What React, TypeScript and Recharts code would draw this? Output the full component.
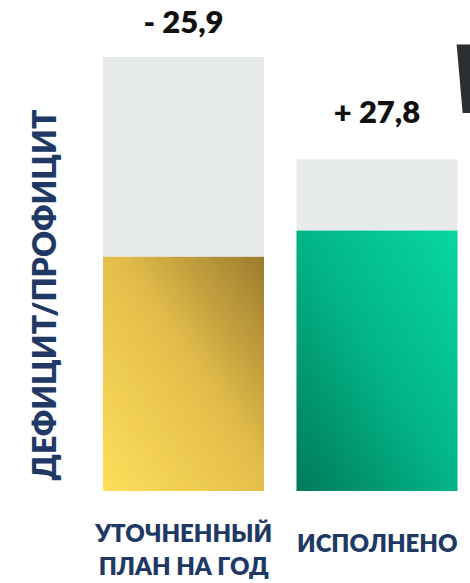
import { BarChart, Bar, XAxis, YAxis, LabelList, Customized } from "recharts";

// bar values (same units for both series)
const categories = [["УТОЧНЕННЫЙ", "ПЛАН НА ГОД"], ["ИСПОЛНЕНО"]];
const totals = [48, 36.7];
const balance = [25.9, 28.8];
const balanceLabels = ["- 25,9", "+ 27,8"];
const axisTitle = "ДЕФИЦИТ/ПРОФИЦИТ";

const labelOffsets = [24, 36];
const navy = "#203864";
const font = "Lato, 'Open Sans', sans-serif";

const data = categories.map((lines, i) => ({
  name: lines.join(" "),
  lines,
  total: totals[i],
  balance: balance[i],
  label: balanceLabels[i],
}));

function CategoryTick(props: any) {
  const { x, y, index } = props;
  const lines = categories[index] ?? [];
  const startY = lines.length > 1 ? y + 43 : y + 53;
  return (
    <g>
      {lines.map((line, i) => (
        <text
          key={i}
          x={x}
          y={startY + i * 33}
          textAnchor="middle"
          fill={navy}
          fontFamily={font}
          fontWeight={800}
          fontSize={24}
        >
          {line}
        </text>
      ))}
    </g>
  );
}

function ValueLabel(props: any) {
  const { x, y, width, index } = props;
  return (
    <text
      x={x + width / 2}
      y={y - labelOffsets[index]}
      textAnchor="middle"
      fill="#111"
      fontFamily={font}
      fontWeight={800}
      fontSize={31}
    >
      {balanceLabels[index]}
    </text>
  );
}

function AxisTitle() {
  return (
    <text
      x={56}
      y={295}
      transform="rotate(-90 56 295)"
      textAnchor="middle"
      fill={navy}
      fontFamily={font}
      fontWeight={800}
      fontSize={32}
    >
      {axisTitle}
    </text>
  );
}

export default function App() {
  return (
    <div
      style={{
        position: "absolute",
        left: 0,
        top: 0,
        width: 470,
        height: 583,
        overflow: "hidden",
        background: "#fff",
      }}
    >
      <BarChart
        width={474}
        height={583}
        data={data}
        margin={{ top: 57, right: 0, bottom: 0, left: 87 }}
      >
        <defs>
          <linearGradient id="gold" x1="0" y1="1" x2="1" y2="0">
            <stop offset="0%" stopColor="#fede5b" />
            <stop offset="55%" stopColor="#e2bc4a" />
            <stop offset="100%" stopColor="#9b7c2e" />
          </linearGradient>
          <linearGradient id="green" x1="0" y1="1" x2="1" y2="0">
            <stop offset="0%" stopColor="#007a5a" />
            <stop offset="50%" stopColor="#03b487" />
            <stop offset="100%" stopColor="#07d7a0" />
          </linearGradient>
        </defs>
        <XAxis
          xAxisId="bg"
          dataKey="name"
          axisLine={false}
          tickLine={false}
          height={92}
          interval={0}
          tick={<CategoryTick />}
        />
        <XAxis xAxisId="fg" dataKey="name" hide />
        <YAxis domain={[0, 48]} hide />
        <Bar
          xAxisId="bg"
          dataKey="total"
          fill="#e7ebec"
          barSize={161}
          isAnimationActive={false}
        >
          <LabelList dataKey="label" content={<ValueLabel />} />
        </Bar>
        <Bar
          xAxisId="fg"
          dataKey="balance"
          barSize={161}
          isAnimationActive={false}
          shape={(p: any) => (
            <rect
              x={p.x}
              y={p.y}
              width={p.width}
              height={p.height}
              fill={p.index === 0 ? "url(#gold)" : "url(#green)"}
            />
          )}
        />
        <Customized component={AxisTitle} />
      </BarChart>
      <div
        style={{
          position: "absolute",
          left: 452,
          top: 28,
          fontFamily: "'Open Sans', sans-serif",
          fontWeight: 800,
          fontSize: 96,
          lineHeight: "96px",
          color: "#2b2f33",
          transform: "skewX(5deg)",
        }}
      >
        Б
      </div>
    </div>
  );
}
